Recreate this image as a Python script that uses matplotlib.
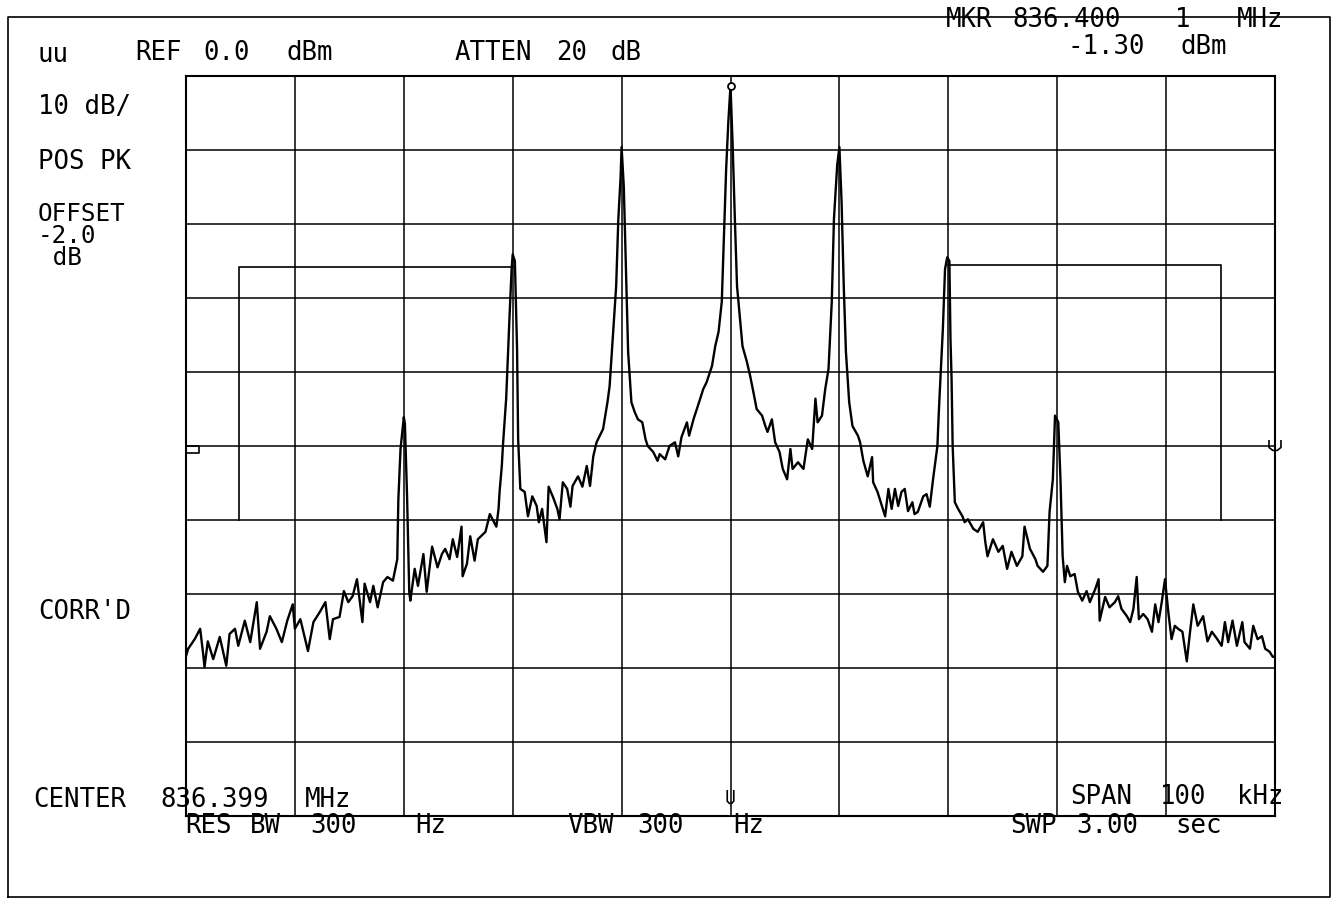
import matplotlib.pyplot as plt
from matplotlib.lines import Line2D

# spectrum analyzer trace, offset from center (kHz) and level (dBm)
freq_khz = [
    -50.0, -49.8, -49.2, -48.7, -48.4, -48.3, -48.0, -47.5, -46.9, -46.3,
    -46.0, -45.5, -45.2, -44.6, -44.1, -43.5, -43.2, -42.6, -42.3, -41.7,
    -41.2, -40.7, -40.2, -40.0, -39.5, -38.8, -38.3, -37.7, -37.2, -36.8,
    -36.5, -35.9, -35.5, -35.1, -34.7, -34.3, -33.8, -33.6, -33.1, -32.8,
    -32.4, -31.9, -31.5, -31.0, -30.6, -30.5, -30.3, -30.0, -29.9, -29.7,
    -29.5, -29.4, -29.0, -28.7, -28.2, -27.9, -27.4, -26.9, -26.5, -26.2,
    -25.8, -25.5, -25.1, -24.7, -24.6, -24.2, -23.9, -23.5, -23.2, -22.5,
    -22.1, -21.5, -21.3, -21.2, -21.0, -20.9, -20.6, -20.3, -20.1, -20.0,
    -19.8, -19.6, -19.5, -19.3, -18.9, -18.6, -18.2, -17.8, -17.6, -17.3,
    -16.9, -16.7, -16.3, -15.9, -15.7, -15.4, -15.0, -14.7, -14.5, -14.0,
    -13.6, -13.2, -12.9, -12.6, -12.3, -11.7, -11.3, -11.1, -10.8, -10.5,
    -10.3, -10.1, -10.0, -9.8, -9.6, -9.4, -9.1, -8.8, -8.5, -8.1,
    -7.8, -7.6, -7.1, -6.7, -6.5, -6.0, -5.6, -5.1, -4.8, -4.5,
    -4.0, -3.8, -3.4, -3.0, -2.5, -2.2, -1.7, -1.4, -1.1, -0.8,
    -0.6, -0.4, -0.2, 0.0, 0.2, 0.4, 0.6, 0.9, 1.1, 1.5,
    1.8, 2.1, 2.4, 2.9, 3.2, 3.4, 3.8, 4.1, 4.5, 4.8,
    5.2, 5.5, 5.7, 6.2, 6.7, 7.1, 7.5, 7.8, 8.0, 8.4,
    8.7, 9.0, 9.3, 9.5, 9.8, 10.0, 10.2, 10.4, 10.6, 10.9,
    11.2, 11.7, 11.9, 12.2, 12.6, 13.0, 13.1, 13.5, 13.9, 14.2,
    14.5, 14.8, 15.1, 15.4, 15.7, 16.0, 16.3, 16.7, 16.9, 17.2,
    17.7, 18.0, 18.3, 18.6, 19.0, 19.1, 19.2, 19.5, 19.7, 19.9,
    20.1, 20.2, 20.3, 20.4, 20.6, 20.9, 21.3, 21.5, 21.8, 22.3,
    22.7, 23.2, 23.4, 23.6, 24.1, 24.6, 25.0, 25.4, 25.8, 26.3,
    26.8, 27.0, 27.5, 28.0, 28.2, 28.7, 29.1, 29.3, 29.6, 29.8,
    30.1, 30.3, 30.5, 30.7, 30.9, 31.2, 31.6, 31.9, 32.3, 32.7,
    33.0, 33.5, 33.8, 33.9, 34.4, 34.8, 35.3, 35.6, 35.9, 36.4,
    36.7, 37.0, 37.3, 37.5, 37.9, 38.3, 38.7, 39.0, 39.3, 39.6,
    39.9, 40.2, 40.5, 40.8, 41.1, 41.5, 41.9, 42.2, 42.5, 42.9,
    43.4, 43.8, 44.2, 44.7, 45.1, 45.4, 45.7, 46.1, 46.5, 47.0,
    47.2, 47.7, 48.0, 48.4, 48.8, 49.1, 49.5, 49.8, 50.0,
]
level_dbm = [
    -78.4, -77.4, -76.1, -74.7, -78.4, -79.9, -76.4, -78.8, -75.8, -79.7,
    -75.4, -74.7, -77.0, -73.6, -76.5, -71.1, -77.4, -75.1, -73.0, -74.7,
    -76.5, -73.6, -71.4, -74.7, -73.4, -77.7, -73.8, -72.4, -71.1, -76.1,
    -73.4, -73.1, -69.6, -71.1, -70.3, -68.0, -73.8, -68.6, -71.1, -68.9,
    -71.8, -68.4, -67.7, -68.2, -65.3, -57.2, -50.4, -46.1, -47.0, -56.8,
    -69.7, -70.9, -66.6, -68.9, -64.6, -69.7, -63.6, -66.4, -64.6, -63.9,
    -65.3, -62.6, -65.0, -60.9, -67.6, -65.9, -62.2, -65.5, -62.6, -61.6,
    -59.2, -60.9, -58.5, -56.1, -52.7, -50.0, -43.6, -32.8, -26.1, -24.1,
    -25.0, -36.9, -49.1, -55.8, -56.2, -59.5, -56.8, -58.1, -60.3, -58.5,
    -63.0, -55.5, -56.9, -58.5, -59.9, -54.9, -55.8, -58.2, -55.4, -54.1,
    -55.5, -52.7, -55.4, -51.4, -49.5, -47.7, -44.1, -41.9, -35.1, -28.4,
    -19.3, -13.9, -9.6, -14.9, -26.1, -37.3, -44.1, -45.4, -46.4, -46.8,
    -49.1, -50.0, -50.8, -52.0, -51.1, -51.8, -50.0, -49.5, -51.4, -48.8,
    -46.8, -48.6, -46.4, -44.6, -42.3, -41.4, -39.2, -36.5, -34.6, -30.5,
    -21.6, -12.6, -6.2, -1.3, -9.5, -19.3, -28.4, -33.2, -36.5, -38.6,
    -40.5, -42.7, -45.0, -45.9, -47.3, -48.1, -46.4, -49.5, -50.8, -53.1,
    -54.5, -50.4, -53.1, -52.2, -53.1, -49.1, -50.4, -43.6, -46.8, -45.9,
    -42.3, -39.6, -30.5, -19.3, -12.0, -9.6, -17.0, -28.4, -37.3, -44.1,
    -47.3, -48.6, -49.5, -52.0, -54.1, -51.5, -54.9, -56.2, -58.1, -59.5,
    -55.8, -58.5, -55.8, -58.1, -56.2, -55.8, -58.8, -57.6, -59.2, -58.9,
    -56.8, -56.5, -58.2, -54.5, -50.0, -46.4, -43.2, -34.2, -26.1, -24.5,
    -25.0, -35.5, -40.9, -50.0, -57.6, -58.5, -59.5, -60.3, -59.9, -61.2,
    -61.6, -60.3, -63.0, -64.9, -62.6, -64.3, -63.5, -66.6, -64.3, -66.2,
    -64.9, -60.9, -63.9, -65.3, -66.2, -67.0, -66.2, -58.9, -54.5, -45.9,
    -46.8, -54.5, -64.9, -68.4, -66.2, -67.6, -67.3, -69.7, -70.9, -69.6,
    -71.1, -69.3, -68.0, -73.6, -70.4, -71.8, -71.1, -70.3, -72.0, -73.0,
    -73.8, -72.0, -67.7, -73.4, -72.7, -73.4, -75.1, -71.4, -73.8, -71.1,
    -68.0, -72.4, -76.1, -74.3, -74.7, -75.1, -79.1, -75.1, -71.4, -74.3,
    -73.0, -76.4, -75.1, -76.1, -77.0, -73.8, -76.5, -73.6, -77.0, -73.8,
    -76.5, -77.4, -74.3, -76.1, -75.7, -77.4, -77.8, -78.5, -78.4,
]

# limit line corners
left_limit_f = [-45.1, -45.1, -20.0]
left_limit_db = [-60.0, -25.8, -25.8]
right_limit_f = [20.0, 45.0, 45.0]
right_limit_db = [-25.5, -25.5, -60.0]

marker_f, marker_db = 0.0, -1.3

W, H = 1338, 904
fig = plt.figure(figsize=(W / 100, H / 100), dpi=100)
ax = fig.add_axes([186 / W, 1 - 817 / H, (1275 - 186) / W, (817 - 77) / H])

ax.plot(freq_khz, level_dbm, color='black', lw=1.7)
ax.plot(left_limit_f, left_limit_db, color='black', lw=1.2)
ax.plot(right_limit_f, right_limit_db, color='black', lw=1.2)
ax.plot(marker_f, marker_db, 'o', mfc='white', mec='black', ms=5, mew=1.3, clip_on=False)

# small display markers on the graticule
ax.plot([-50, -48.8, -48.8, -50], [-50.0, -50.0, -50.9, -50.9], color='black', lw=1.2, clip_on=False)
ax.plot([49.45, 49.45, 49.8, 50.2, 50.55, 50.55], [-49.3, -50.2, -50.6, -50.6, -50.2, -49.3],
        color='black', lw=1.2, clip_on=False)
ax.plot([-0.3, -0.3, -0.1, 0.1, 0.3, 0.3], [-96.6, -98.0, -98.3, -98.3, -98.0, -96.6],
        color='black', lw=1.2)

ax.set_xlim(-50, 50)
ax.set_ylim(-100, 0)
ax.set_xticks(range(-50, 51, 10))
ax.set_yticks(range(-100, 1, 10))
ax.grid(True, color='black', lw=1.1)
ax.tick_params(length=0, labelbottom=False, labelleft=False)
for s in ax.spines.values():
    s.set_linewidth(1.5)


def label(y, *words, size=18.5, **kw):
    # words come as (x, text) pairs; the plotter font is spaced wider than any installed one
    for x, s in words:
        fig.text(x / W, 1 - y / H, s, fontsize=size, family='DejaVu Sans Mono',
                 va='center', ha='left', color='black', **kw)


label(55, (38, 'uu'))
label(53, (135, 'REF'), (203, '0.0'), (287, 'dBm'))
label(53, (455, 'ATTEN'), (556, '20'), (611, 'dB'))
label(20, (946, 'MKR'), (1012, '836.400'), (1175, '1'), (1237, 'MHz'))
label(47, (1067, '-1.30'), (1180, 'dBm'))
label(107, (38, '10 dB/'))
label(162, (38, 'POS PK'))
label(236, (38, 'OFFSET\n-2.0\n dB'), size=17.5, linespacing=0.92)
label(612, (38, "CORR'D"))
label(800, (33, 'CENTER'), (160, '836.399'), (305, 'MHz'))
label(797, (1070, 'SPAN'), (1160, '100'), (1237, 'kHz'))
label(826, (185, 'RES'), (250, 'BW'), (310, '300'), (415, 'Hz'))
label(826, (567, 'VBW'), (637, '300'), (733, 'Hz'))
label(826, (1010, 'SWP'), (1076, '3.00'), (1175, 'sec'))

# outer plotter frame
x0, x1, y0, y1 = 8 / W, 1330 / W, 1 - 898 / H, 1 - 18 / H
fig.add_artist(Line2D([x0, x1, x1, x0, x0], [y0, y0, y1, y1, y0], color='black', lw=1.2))

fig.savefig('out.png', dpi=100)
